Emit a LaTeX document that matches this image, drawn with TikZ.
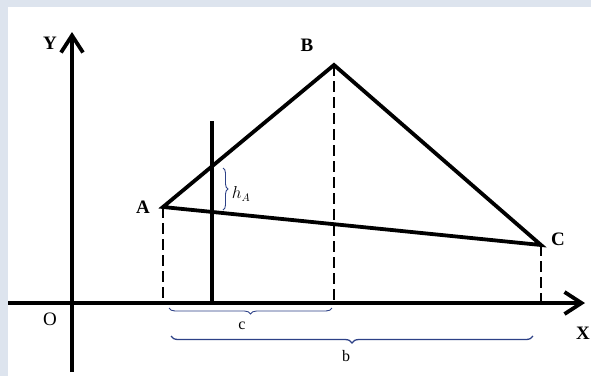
\documentclass[tikz,border=0pt]{standalone}
\usepackage{fontspec}
\setmainfont{Liberation Serif}
\usetikzlibrary{arrows.meta,positioning,decorations.pathreplacing}
\definecolor{framegray}{RGB}{221,228,238}
\definecolor{bracenavy}{RGB}{45,65,135}

\begin{document}
\begin{tikzpicture}[x=1pt, y=-1pt, axis/.style={line width=3.8pt, -{Straight Barb[length=17pt,width=22pt]}}, side/.style={line width=3.8pt}, proj/.style={line width=2.4pt, dash pattern=on 11pt off 5pt}, lbl/.style={font=\fontsize{19}{21}\selectfont\bfseries, inner sep=0pt}, olbl/.style={font=\fontsize{19}{21}\selectfont, inner sep=0pt}, slbl/.style={font=\fontsize{16}{18}\selectfont, inner sep=0pt}, brc/.style={decorate, decoration={brace, amplitude=#1}, bracenavy, line width=0.9pt}]
\fill[framegray] (0,0) rectangle (591,376);
\fill[white] (8,7) rectangle (591,376);
\useasboundingbox (0,0) rectangle (591,376);
\coordinate (O)    at (72,303);
\coordinate (Ytop) at (72,32);
\coordinate (Ybot) at (72,372);
\coordinate (Xbeg) at (8,303);
\coordinate (Xtip) at (585,303);
\coordinate (A)    at (163,207);
\coordinate (B)    at (334,65);
\coordinate (C)    at (541,245);
\coordinate (H)    at (212,121);
\coordinate (Hfoot) at (212,303);
\draw[axis] (Ybot) -- (Ytop);
\draw[axis] (Xbeg) -- (Xtip);
\draw[side] (A) -- (B) -- (C) -- cycle;
\draw[side] (H) -- (Hfoot);
\draw[proj] (A) -- (A |- O); \draw[proj] (B) -- (B |- O); \draw[proj] (C) -- (C |- O);
\node[lbl]  (labY) at (50,43)  {Y};
\node[lbl]  (labX) at (583,333) {X};
\node[olbl] (labO) at (50,319) {O};
\node[lbl, left=13pt of A]  (labA) {A};
\node[lbl]  (labB) at (307,45) {B};
\node[lbl, right=10pt of C, yshift=6pt] (labC) {C};
\draw[brc=5pt] (223,168) -- (223,210);
\node[slbl] (labh) at (241,194) {$h_A$};
\draw[brc=6pt] (332,308) -- (169,308);
\node[slbl] (labc) at (242,326) {c};
\draw[brc=7pt, line width=1.3pt] (533,336) -- (171,336);
\node[slbl] (labb) at (346,356) {b};
\end{tikzpicture}
\end{document}
